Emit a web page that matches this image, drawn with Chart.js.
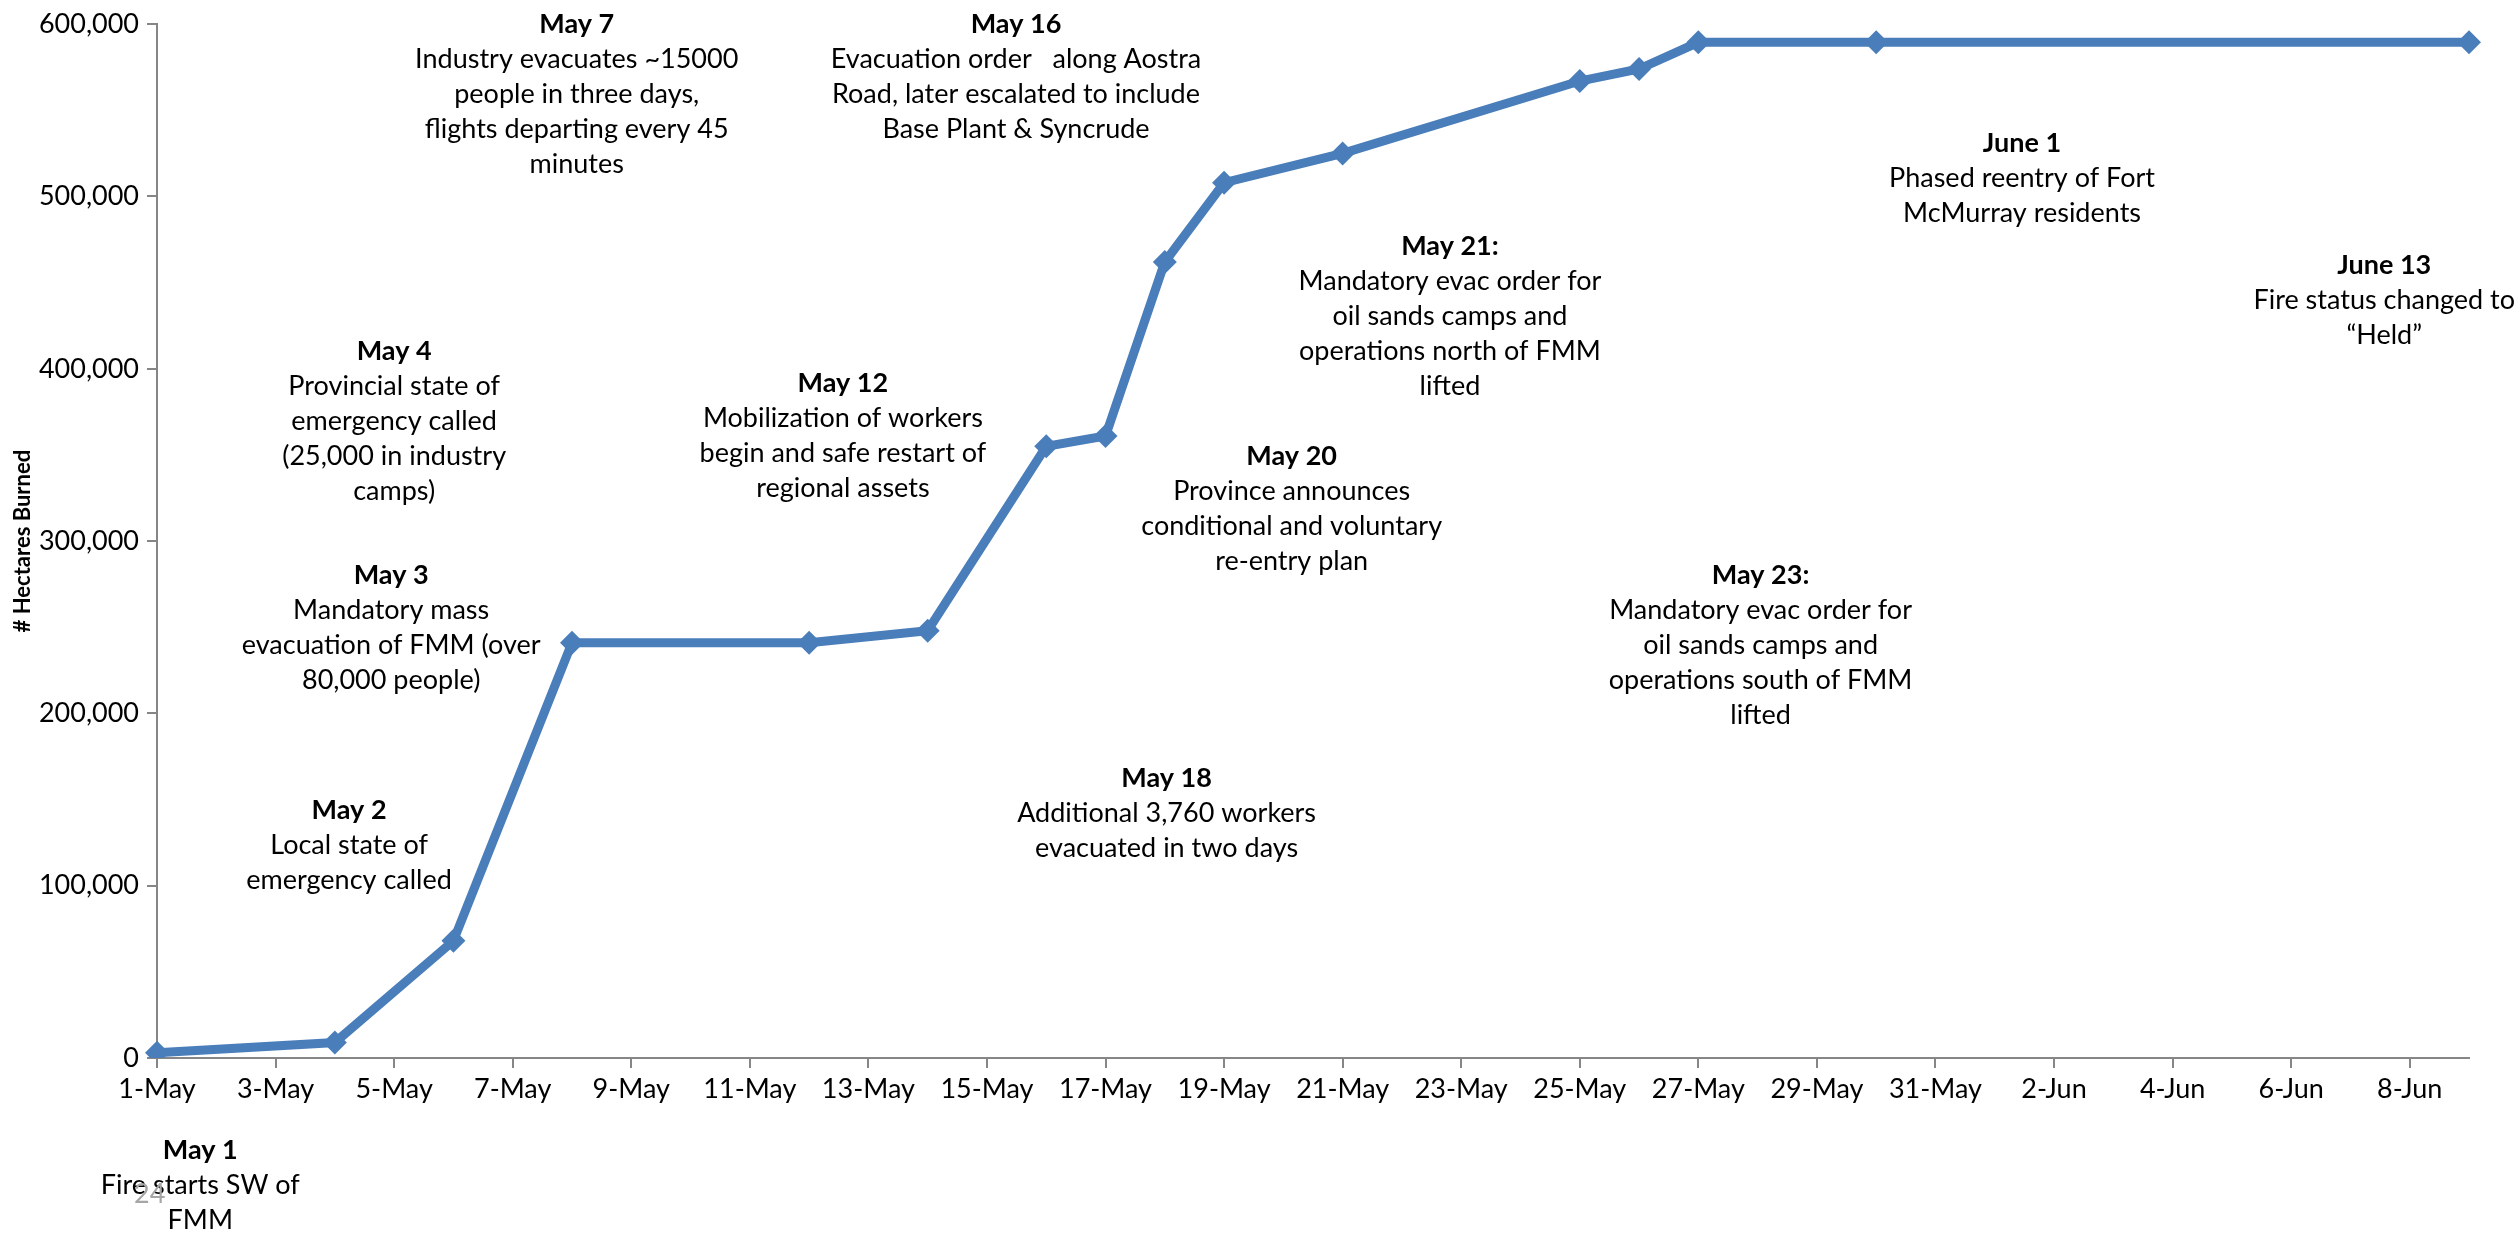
<!DOCTYPE html>
<html>
<head>
<meta charset="utf-8">
<script src="https://cdn.jsdelivr.net/npm/chart.js@4.4.1/dist/chart.umd.min.js"></script>
<style>
  html, body { margin: 0; padding: 0; background: #fff; }
  #wrap { position: relative; width: 2514px; height: 1233px; }
  #pageNo { position: absolute; left: 134px; top: 1176px; font: 27px Lato, sans-serif; color: #a6a6a6; }
</style>
</head>
<body>
<div id="wrap">
  <canvas id="fireChart"></canvas>
  <div id="pageNo">24</div>
</div>
<script>
// ---------- data ----------
const dayLabels = [
  "1-May", "2-May", "3-May", "4-May", "5-May", "6-May", "7-May", "8-May", "9-May", "10-May",
  "11-May", "12-May", "13-May", "14-May", "15-May", "16-May", "17-May", "18-May", "19-May", "20-May",
  "21-May", "22-May", "23-May", "24-May", "25-May", "26-May", "27-May", "28-May", "29-May", "30-May",
  "31-May", "1-Jun", "2-Jun", "3-Jun", "4-Jun", "5-Jun", "6-Jun", "7-Jun", "8-Jun", "9-Jun"
];

// hectares burned, null = no report that day
const hectaresBurned = [
  3000, null, null, 9000, null, 68000, null, 241000, null, null,
  null, 241000, null, 248000, null, 355000, 361000, 462000, 508000, null,
  525000, null, null, null, 567000, 574000, 589500, null, null, 589500,
  null, null, null, null, null, null, null, null, null, 589500
];

const yTicks = [0, 100000, 200000, 300000, 400000, 500000, 600000];

const noteTitles = [
  "May 7", "May 16", "June 1", "May 4", "May 12", "May 21:", "June 13",
  "May 20", "May 3", "May 23:", "May 2", "May 18", "May 1"
];

const noteLines = [
  ["Industry evacuates ~15000", "people in three days,", "flights departing every 45", "minutes"],
  ["Evacuation order   along Aostra", "Road, later escalated to include", "Base Plant & Syncrude"],
  ["Phased reentry of Fort", "McMurray residents"],
  ["Provincial state of", "emergency called", "(25,000 in industry", "camps)"],
  ["Mobilization of workers", "begin and safe restart of", "regional assets"],
  ["Mandatory evac order for", "oil sands camps and", "operations north of FMM", "lifted"],
  ["Fire status changed to", "\u201cHeld\u201d"],
  ["Province announces", "conditional and voluntary", "re-entry plan"],
  ["Mandatory mass", "evacuation of FMM (over", "80,000 people)"],
  ["Mandatory evac order for", "oil sands camps and", "operations south of FMM", "lifted"],
  ["Local state of", "emergency called"],
  ["Additional 3,760 workers", "evacuated in two days"],
  ["Fire starts SW of", "FMM"]
];

// where each note sits, in chart units: [day index, hectares]
const noteAnchors = [
  [7.08, 600000], [14.49, 600000], [31.46, 531000], [4.0, 410000], [11.57, 391500],
  [21.81, 471000], [37.57, 460000], [19.14, 349000], [3.95, 280000], [27.05, 280000],
  [3.24, 144000], [17.03, 162500], [0.73, -53500]
];

// ---------- notes plugin ----------
const FONT = "Lato, 'Open Sans', sans-serif";
const notesPlugin = {
  id: "notes",
  afterDraw(chart) {
    const ctx = chart.ctx;
    const xs = chart.scales.x, ys = chart.scales.y;
    const lineH = 35;
    ctx.save();
    ctx.fillStyle = "#000";
    ctx.textAlign = "center";
    ctx.textBaseline = "middle";
    noteTitles.forEach((t, i) => {
      const px = xs.getPixelForValue(noteAnchors[i][0]);
      const py = ys.getPixelForValue(noteAnchors[i][1]);
      ctx.font = "bold 27px " + FONT;
      ctx.fillText(t, px, py);
      ctx.font = "27px " + FONT;
      noteLines[i].forEach((l, j) => ctx.fillText(l, px, py + lineH * (j + 1)));
    });
    ctx.restore();
  }
};

// ---------- chart ----------
const axisGray = "#868686";
const ctx = document.getElementById("fireChart").getContext("2d");
const chartInstance = new Chart(ctx, {
  type: "line",
  data: {
    labels: dayLabels,
    datasets: [{
      label: "# Hectares Burned",
      data: hectaresBurned,
      spanGaps: true,
      borderColor: "#4a7ebb",
      backgroundColor: "#4a7ebb",
      borderWidth: 9,
      tension: 0,
      pointStyle: "rectRot",
      pointRadius: 12,
      pointHoverRadius: 12,
      pointBorderWidth: 0
    }]
  },
  options: {
    responsive: true,
    maintainAspectRatio: false,
    animation: false,
    layout: { padding: { left: 8, top: 16, right: 45, bottom: 115 } },
    plugins: { legend: { display: false }, tooltip: { enabled: false } },
    scales: {
      x: {
        type: "category",
        offset: false,
        afterBuildTicks: s => { s.ticks = s.ticks.filter(t => t.value % 2 === 0); },
        afterFit: s => { s.height = 60; },
        grid: { drawOnChartArea: false, drawTicks: true, tickLength: 10, color: axisGray, lineWidth: 2 },
        border: { display: true, color: axisGray, width: 2 },
        ticks: {
          autoSkip: false, maxRotation: 0, minRotation: 0, padding: 5,
          color: "#000", font: { family: FONT, size: 27 }
        }
      },
      y: {
        min: 0,
        max: 600000,
        afterBuildTicks: s => { s.ticks = yTicks.map(v => ({ value: v })); },
        afterFit: s => { s.width = 149; },
        grid: { drawOnChartArea: false, drawTicks: true, tickLength: 10, color: axisGray, lineWidth: 2 },
        border: { display: true, color: axisGray, width: 2 },
        ticks: {
          padding: 8, color: "#000", font: { family: FONT, size: 27 },
          callback: v => v.toLocaleString("en-US")
        },
        title: {
          display: true, text: "# Hectares Burned", color: "#000",
          font: { family: FONT, size: 22, weight: "bold" }, padding: { top: 2, bottom: 4 }
        }
      }
    }
  },
  plugins: [notesPlugin]
});
</script>
</body>
</html>
